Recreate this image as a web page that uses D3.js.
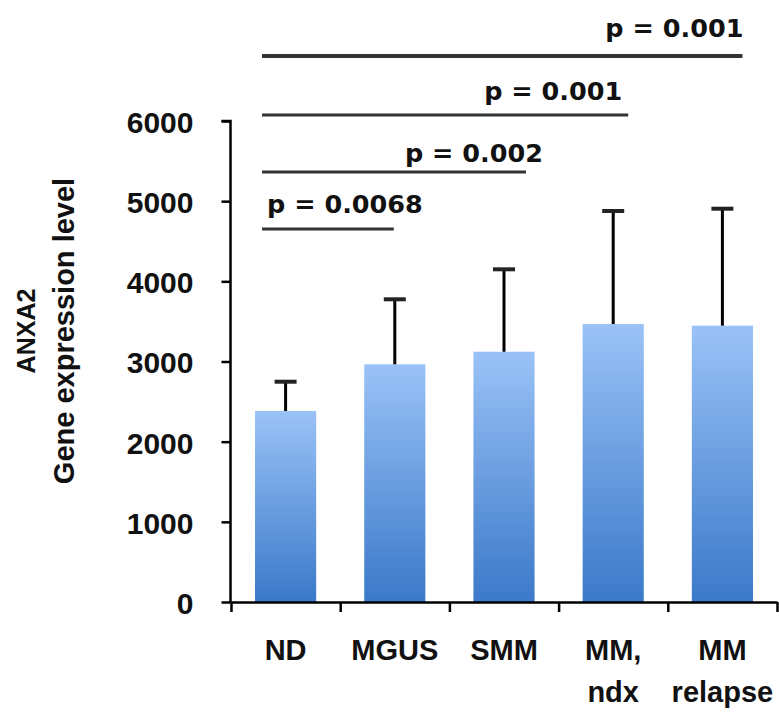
<!DOCTYPE html>
<html>
<head>
<meta charset="utf-8">
<script src="https://cdn.jsdelivr.net/npm/d3@7"></script>
<style>
  html, body { margin: 0; padding: 0; background: #fff; }
  svg { display: block; }
</style>
</head>
<body>
<svg id="chart"></svg>
<script>
const width = 779;
const height = 716;

// data
const categories = ['ND', 'MGUS', 'SMM', 'MM, ndx', 'MM relapse'];
const categoryLines = [['ND'], ['MGUS'], ['SMM'], ['MM,', 'ndx'], ['MM', 'relapse']];
const means = [2383, 2965, 3122, 3468, 3447];
const upperErrors = [365, 811, 1028, 1409, 1459];
const yTicks = [0, 1000, 2000, 3000, 4000, 5000, 6000];
const pLabels = ['p = 0.0068', 'p = 0.002', 'p = 0.001', 'p = 0.001'];
const pTargets = ['MGUS', 'SMM', 'MM, ndx', 'MM relapse'];
const pLevels = [4653, 5364, 6075, 6811];

// layout tweaks for the hand placed significance bars
const pEndShift = [-1, 22, 15, 20];
const pText = [
    { anchor: 'start', dx: 5, dy: -16 },
    { anchor: 'end', dx: 17, dy: -10 },
    { anchor: 'end', dx: -6, dy: -15 },
    { anchor: 'end', dx: 1, dy: -19 },
];

const svg = d3.select('#chart')
    .attr('width', width)
    .attr('height', height);

const x = d3.scaleBand()
    .domain(categories)
    .range([231, 777])
    .paddingInner(0.44)
    .paddingOuter(0.22);

const y = d3.scaleLinear()
    .domain([0, 6000])
    .range([602, 121]);

// gradient per bar: light blue on top, deeper blue at the base
const grad = svg.append('defs').append('linearGradient')
    .attr('id', 'barFill')
    .attr('x1', 0).attr('y1', 0)
    .attr('x2', 0).attr('y2', 1);
grad.append('stop').attr('offset', '0%').attr('stop-color', '#9ac2f7');
grad.append('stop').attr('offset', '100%').attr('stop-color', '#3b79c9');

const data = categories.map((c, i) => ({ name: c, mean: means[i], err: upperErrors[i] }));

// bars
svg.append('g')
    .selectAll('rect')
    .data(data)
    .enter().append('rect')
    .attr('x', d => x(d.name))
    .attr('y', d => y(d.mean))
    .attr('width', x.bandwidth())
    .attr('height', d => y(0) - y(d.mean))
    .attr('fill', 'url(#barFill)');

// upper error bars
const err = svg.append('g');
err.selectAll('line.stem')
    .data(data)
    .enter().append('line')
    .attr('class', 'stem')
    .attr('x1', d => x(d.name) + x.bandwidth() / 2)
    .attr('x2', d => x(d.name) + x.bandwidth() / 2)
    .attr('y1', d => y(d.mean))
    .attr('y2', d => y(d.mean + d.err))
    .attr('stroke', '#000')
    .attr('stroke-width', 3);
err.selectAll('line.cap')
    .data(data)
    .enter().append('line')
    .attr('class', 'cap')
    .attr('x1', d => x(d.name) + x.bandwidth() / 2 - 11)
    .attr('x2', d => x(d.name) + x.bandwidth() / 2 + 11)
    .attr('y1', d => y(d.mean + d.err))
    .attr('y2', d => y(d.mean + d.err))
    .attr('stroke', '#222')
    .attr('stroke-width', 4);

// y axis
const yAxis = svg.append('g')
    .attr('transform', 'translate(230.5,0)')
    .call(d3.axisLeft(y).tickValues(yTicks).tickSize(9).tickPadding(28).tickFormat(d3.format('d')));
yAxis.select('.domain').attr('stroke', '#000').attr('stroke-width', 2.5)
    .attr('d', `M-9,${y(6000)}H0V${y(0)}`);
yAxis.selectAll('.tick line').attr('stroke', '#000').attr('stroke-width', 2.5);
yAxis.selectAll('.tick text')
    .attr('fill', '#111')
    .style('font-family', '"Liberation Sans", Arial, sans-serif')
    .style('font-weight', 'bold')
    .style('font-size', '30px')
    .attr('dy', '0.38em');

// x axis: ticks sit on the band boundaries
const edge = d3.scaleLinear().domain([0, categories.length]).range(x.range());
const xAxis = svg.append('g')
    .attr('transform', `translate(0,${y(0)})`)
    .call(d3.axisBottom(edge).tickValues(d3.range(categories.length + 1)).tickSize(10).tickSizeOuter(0).tickFormat(''));
xAxis.select('.domain').attr('stroke', '#000').attr('stroke-width', 2.5);
xAxis.selectAll('.tick line').attr('stroke', '#000').attr('stroke-width', 2.5);

const xLabels = svg.append('g')
    .selectAll('text')
    .data(categories)
    .enter().append('text')
    .attr('x', d => x(d) + x.bandwidth() / 2)
    .attr('y', 660)
    .attr('text-anchor', 'middle')
    .attr('fill', '#111')
    .style('font-family', '"Liberation Sans", Arial, sans-serif')
    .style('font-weight', 'bold')
    .style('font-size', '29px');
xLabels.selectAll('tspan')
    .data((d, i) => categoryLines[i])
    .enter().append('tspan')
    .attr('x', function () { return this.parentNode.getAttribute('x'); })
    .attr('dy', (d, i) => i === 0 ? 0 : 42)
    .text(d => d);

// y axis title
const title = svg.append('g')
    .attr('fill', '#111')
    .style('font-family', '"Liberation Sans", Arial, sans-serif')
    .style('font-weight', 'bold');
title.append('text')
    .attr('transform', 'translate(35,331) rotate(-90)')
    .attr('text-anchor', 'middle')
    .style('font-size', '25px')
    .text('ANXA2');
title.append('text')
    .attr('transform', 'translate(74,331) rotate(-90)')
    .attr('text-anchor', 'middle')
    .style('font-size', '29px')
    .text('Gene expression level');

// significance bars
const sig = pLabels.map((p, i) => ({
    label: p,
    level: pLevels[i],
    x1: x('ND') + 7,
    x2: x(pTargets[i]) + x.bandwidth() / 2 + pEndShift[i],
    t: pText[i],
}));

const pg = svg.append('g');
pg.selectAll('line')
    .data(sig)
    .enter().append('line')
    .attr('x1', d => d.x1)
    .attr('x2', d => d.x2)
    .attr('y1', d => y(d.level))
    .attr('y2', d => y(d.level))
    .attr('stroke', '#333')
    .attr('stroke-width', (d, i) => i === sig.length - 1 ? 4 : 3.2);
pg.selectAll('text')
    .data(sig)
    .enter().append('text')
    .attr('x', d => (d.t.anchor === 'start' ? d.x1 : d.x2) + d.t.dx)
    .attr('y', d => y(d.level) + d.t.dy)
    .attr('text-anchor', d => d.t.anchor)
    .attr('fill', '#111')
    .style('font-family', '"DejaVu Sans", sans-serif')
    .style('font-weight', 'bold')
    .style('font-size', '25.5px')
    .text(d => d.label);
</script>
</body>
</html>
